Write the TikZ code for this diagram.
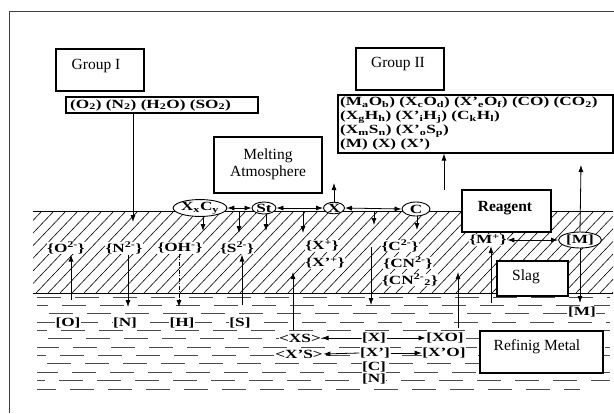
\documentclass[tikz,border=0pt]{standalone}
\usepackage{fontspec}
\setmainfont{Liberation Serif}
\newfontfamily\chemfont[FakeStretch=1.38]{Liberation Serif}
\usetikzlibrary{arrows.meta,shapes.geometric}
\newcommand\mysb[1]{\textsubscript{#1}}
\newcommand\mysp[1]{\textsuperscript{#1}}
\begin{document}
\begin{tikzpicture}[x=1pt,y=-1pt,
 box/.style={draw,line width=1.1pt,fill=white,inner sep=0pt},
 lbl/.style={font=\fontsize{15.5}{18}\selectfont,inner sep=0pt,align=center},
 chem/.style={font=\chemfont\fontsize{12.5}{13.5}\selectfont\bfseries,inner sep=1pt},
 ion/.style={chem,fill=white,inner sep=0.5pt},
 arr/.style={line width=0.8pt,-{Latex[length=7pt,width=5pt]}},
 darr/.style={line width=0.8pt,{Latex[length=7pt,width=5pt]}-{Latex[length=7pt,width=5pt]}},
 surf/.style={draw,ellipse,line width=0.9pt,fill=white,inner sep=0pt,font=\chemfont\fontsize{12.5}{12.5}\selectfont\bfseries},
 hatch/.style={line width=0.6pt},
 metaldash/.style={line width=0.8pt,black!70,dash pattern=on 24pt off 14pt}
]
\useasboundingbox (0,0) rectangle (614,413);
% frame
\draw[line width=0.9pt,black!75] (9,413) -- (9,11) -- (614,11);

% slag hatching
\begin{scope}
\clip (33,211) rectangle (613,293);
\foreach \i in {-10,...,55} \draw[hatch] (\i*12,293) -- ++(78,-82);
\end{scope}
\draw[line width=0.8pt] (33,211) -- (613,211);
\draw[line width=0.8pt] (33,293) -- (613,293);

% metal dashes
\foreach \r in {0,...,10} {
  \pgfmathsetmacro\yy{297+\r*8.35}
  \pgfmathsetmacro\ph{mod(\r*13,38)}
  \draw[metaldash,dash phase=\ph] (37,\yy) -- (610,\yy);
}
\draw[metaldash,dash phase=5] (37,389) -- (580,389);

% top boxes
\node[box,minimum width=88pt,minimum height=42pt] (g1) at (100,70) {};
\node[lbl] (g1t) at (96,66) {Group I};
\node[box,minimum width=192pt,minimum height=16pt] (g1s) at (162,105) {};
\node[chem,anchor=west] (g1st) at (69,105) {(O\mysb{2}) (N\mysb{2}) (H\mysb{2}O) (SO\mysb{2})};

\node[box,minimum width=88pt,minimum height=42pt] (g2) at (400,69) {};
\node[lbl] (g2t) at (398,64) {Group II};
\node[box,minimum width=275pt,minimum height=58pt] (g2s) at (475.5,124) {};
\node[chem,anchor=north west,align=left,font=\chemfont\fontsize{12.5}{13.8}\selectfont\bfseries] (g2st) at (339,96)
 {(M\mysb{a}O\mysb{b}) (X\mysb{c}O\mysb{d}) (X’\mysb{e}O\mysb{f}) (CO) (CO\mysb{2})\\
  (X\mysb{g}H\mysb{h}) (X’\mysb{i}H\mysb{j}) (C\mysb{k}H\mysb{l})\\
  (X\mysb{m}S\mysb{n}) (X’\mysb{o}S\mysb{p})\\
  (M) (X) (X’)};

\node[box,minimum width=108pt,minimum height=56pt] (ma) at (268,165) {};
\node[lbl] (mat) at (268,164) {Melting\\[-1pt]Atmosphere};

% surface species
\node[surf,minimum width=45pt,minimum height=13pt] (xc) at (200,208) {X\mysb{x}C\mysb{y}};
\node[surf,minimum width=24pt,minimum height=12pt] (st) at (264,208) {St};
\node[surf,minimum width=21pt,minimum height=11pt] (xx) at (334,208) {X};
\node[surf,minimum width=28pt,minimum height=14pt] (cc) at (416,209) {C};

\draw[darr] (xc.east) -- (st.west);
\draw[darr] (st.east) -- (xx.west);
\draw[darr] (xx.east) -- (cc.west);

% reagent
\node[box,minimum width=89pt,minimum height=42pt] (rg) at (506.5,211) {};
\node[lbl,font=\fontsize{15.5}{18}\selectfont\bfseries] (rgt) at (505,208) {Reagent};

% coordinates
\coordinate (a1) at (133,222);
\coordinate (d1) at (203,231);
\coordinate (s1) at (239,211);
\coordinate (d2) at (239,233);
\coordinate (d3) at (266,231);
\coordinate (s2) at (303,211);
\coordinate (d4) at (303,233);
\coordinate (s3) at (374,211);
\coordinate (d5) at (374,225);
\coordinate (d6) at (417,230);
\coordinate (u1) at (334,183);
\coordinate (u2b) at (444,190);
\coordinate (u3) at (581,165);
\coordinate (m1) at (580,303);

\draw[arr] (g1s.south -| a1) -- (a1);
\draw[arr] (d1 |- xc.south) -- (d1);
\draw[arr] (s1) -- (d2);
\draw[arr] (d3 |- st.south) -- (d3);
\draw[arr] (s2) -- (d4);
\draw[arr] (s3) -- (d5);
\draw[arr] (d6 |- cc.south) -- (d6);
\draw[arr] (xx.north) -- (u1);
\draw[arr] (u2b) -- (g2s.south -| u2b);

% slag ions
\node[ion] (o2) at (66,248) {\{O\mysp{2-}\}};
\node[ion] (n2) at (124,248) {\{N\mysp{2-}\}};
\node[ion] (oh) at (180,248) {\{OH\mysp{-}\}};
\node[ion] (s2i) at (237,248) {\{S\mysp{2-}\}};
\node[ion] (xp) at (322,246) {\{X\mysp{+}\}};
\node[ion] (xpp) at (325,263) {\{X’\mysp{+}\}};
\node[ion] (c2) at (400,246) {\{C\mysp{2-}\}};
\node[ion] (cn) at (408,263) {\{CN\mysp{2-}\}};
\node[ion] (cn2) at (410,280) {\{CN\mysp{2-}\mysb{2}\}};
\node[ion] (mp) at (488,240) {\{M\mysp{+}\}};
\node[surf,minimum width=43pt,minimum height=16pt] (mm) at (580,240) {[M]};
\draw[darr] (mp.east) -- (mm.west);
\draw[arr] (mm.north) -- (u3);
\draw[arr] (mm.south) -- (m1);

\node[box,minimum width=71pt,minimum height=35pt] (sl) at (532.5,278.5) {};
\node[lbl] (slt) at (526,277) {Slag};

% metal species
\node[ion] (mo) at (68,323) {[O]};
\node[ion] (mn) at (125,323) {[N]};
\node[ion] (mh) at (182,323) {[H]};
\node[ion] (ms) at (240,323) {[S]};
\node[ion] (mM) at (582,312) {[M]};
\node[ion] (xs) at (300,338) {<XS>};
\node[ion] (xm) at (374,338) {[X]};
\node[ion] (xo) at (445,338) {[XO]};
\node[ion] (xps) at (299,354) {<X’S>};
\node[ion] (xpm) at (375,353) {[X’]};
\node[ion] (xpo) at (444,353) {[X’O]};
\node[ion] (mc) at (374,367) {[C]};
\node[ion] (mn2) at (374,379) {[N]};

\draw[arr] (xm.west) -- (xs.east);
\draw[arr] (xm.east) -- (xo.west);
\draw[arr] (xpm.west) -- (xps.east);
\draw[arr] (xpm.east) -- (xpo.west);

% vertical exchange arrows
\coordinate (v1b) at (71,300);
\draw[arr] (v1b) -- (o2.south -| v1b);
\coordinate (v2) at (128,307);
\draw[arr] (n2.south -| v2) -- (v2);
\coordinate (v3) at (179,307);
\draw[arr,dash pattern=on 4pt off 1.5pt on 1pt off 1.5pt] (oh.south -| v3) -- (v3);
\coordinate (v4b) at (242,305);
\draw[arr] (v4b) -- (s2i.south -| v4b);
\coordinate (v5b) at (293,330);
\coordinate (v5) at (293,272);
\draw[arr] (v5b) -- (v5);
\coordinate (v6a) at (371,247);
\coordinate (v6) at (371,305);
\draw[arr] (v6a) -- (v6);
\coordinate (v7b) at (458,328);
\coordinate (v7) at (458,272);
\draw[arr] (v7b) -- (v7);
\coordinate (v8b) at (491,303);
\draw[arr] (v8b) -- (mp.south -| v8b);

\node[box,minimum width=123pt,minimum height=42pt] (rm) at (541.5,352) {};
\node[lbl] (rmt) at (537,347) {Refinig Metal};
\end{tikzpicture}
\end{document}
